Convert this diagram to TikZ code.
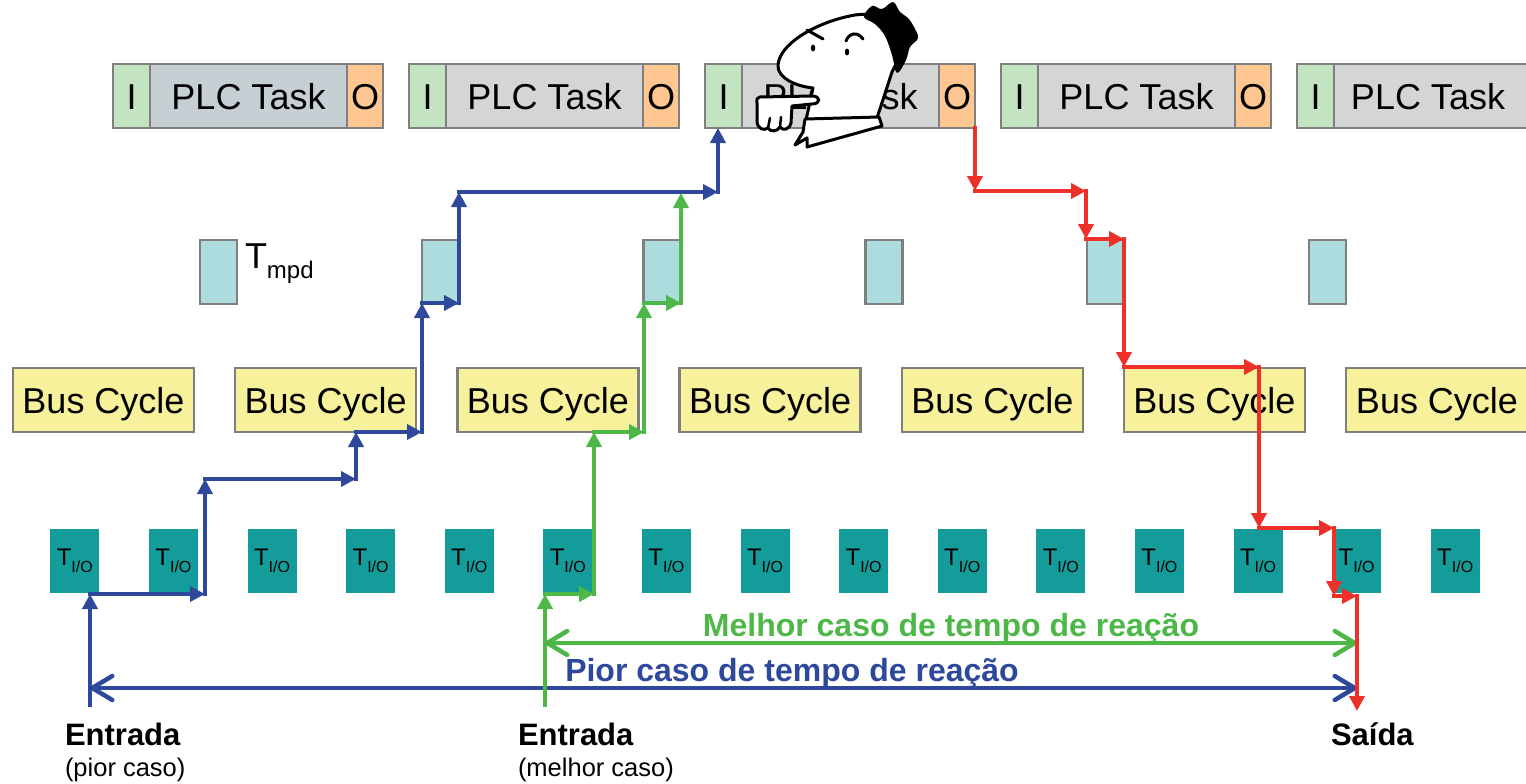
\documentclass[tikz,border=0pt]{standalone}
\usepackage{fontspec}
\setmainfont{Liberation Sans}
\usetikzlibrary{arrows.meta}
\definecolor{cI}{HTML}{C4E3C0}
\definecolor{cTask}{HTML}{D4D6D6}
\definecolor{cTaskA}{HTML}{C6D0D4}
\definecolor{cO}{HTML}{FEC690}
\definecolor{cBorder}{HTML}{7F7F7F}
\definecolor{cMpd}{HTML}{ADDCDF}
\definecolor{cBus}{HTML}{F6F19A}
\definecolor{cTio}{HTML}{139C9A}
\definecolor{cBlue}{HTML}{2E489C}
\definecolor{cGreen}{HTML}{4DB848}
\definecolor{cRed}{HTML}{EE3128}
\newcommand{\bigf}{\fontsize{36}{40}\selectfont}
\newcommand{\labf}{\bfseries\fontsize{32}{36}\selectfont}
\newcommand{\entf}{\bfseries\fontsize{31}{35}\selectfont}
\newcommand{\subf}{\fontsize{25.5}{30}\selectfont}
\begin{document}
\begin{tikzpicture}[x=1pt,y=-1pt,
  box/.style={draw=cBorder, line width=2.5pt, inner sep=0pt, outer sep=0pt,
    anchor=north west, font=\bigf, text height=26pt, text depth=0pt, minimum height=64pt},
  tio/.style={fill=cTio, inner sep=0pt, outer sep=0pt, anchor=north west,
    minimum width=49pt, minimum height=64pt},
  tip/.style={-{Triangle[length=15pt,width=15pt]}},
  seg/.style={line width=4.5pt, line cap=rect, tip},
  bseg/.style={seg, draw=cBlue},
  gseg/.style={seg, draw=cGreen},
  rseg/.style={seg, draw=cRed},
  dim/.style={line width=4.5pt, {Straight Barb[length=20pt,width=24pt,round]}-{Straight Barb[length=20pt,width=24pt,round]}},
  txt/.style={inner sep=0pt, outer sep=0pt},
  toon/.style={draw=black, fill=white, line width=3pt, line join=round}
]
\useasboundingbox (0,0) rectangle (1526,784);
\clip (0,0) rectangle (1526,784);

% PLC task row
\foreach \k/\tc in {0/cTaskA,1/cTask,2/cTask,3/cTask}{
  \node[box, fill=cI, minimum width=37pt] (I\k) at ({113+296*\k},64) {I};
  \node[box, fill=\tc, minimum width=197pt] (T\k) at ({150+296*\k},64) {PLC Task};
  \node[box, fill=cO, minimum width=36pt] (O\k) at ({347+296*\k},64) {O};
}
\node[box, fill=cI, minimum width=37pt] (I4) at (1297,64) {I};
\node[box, fill=cTask, minimum width=200pt] (T4) at (1334,64) {};
\node[txt, font=\bigf, text height=26pt, text depth=0pt] (T4text) at (1428,96) {PLC Task};

% T_mpd row
\foreach \k in {0,...,5}{
  \node[box, fill=cMpd, minimum width=37pt] (M\k) at ({200+221.8*\k},240) {};
}
\node[txt, anchor=base west] (mpdlabel) at (245,268)
  {{\bigf T}{\fontsize{24}{26}\selectfont\raisebox{-10pt}{mpd}}};

% Bus cycle row
\foreach \k in {0,...,5}{
  \node[box, fill=cBus, minimum width=181pt] (B\k) at ({13+222.2*\k},368) {Bus Cycle};
}
\node[box, fill=cBus, minimum width=190pt] (B6) at (1346,368) {};
\node[txt, font=\bigf, text height=26pt, text depth=0pt] (B6text) at (1437,400) {Bus Cycle};

% T_I/O row
\foreach \k in {0,...,14}{
  \node[tio] (P\k) at ({50.3+98.6*\k},529)
    {{\fontsize{24}{26}\selectfont T}{\fontsize{16}{18}\selectfont\raisebox{-7pt}{I/O}}};
}

% dimension arrows
\coordinate (dgL) at (545,643);
\coordinate (dgR) at (1357,643);
\coordinate (dbL) at (90,688);
\coordinate (dbR) at (1357,688);
\draw[dim, draw=cGreen] (dgL) -- (dgR);
\draw[dim, draw=cBlue] (dbL) -- (dbR);
\node[txt, anchor=base, font=\labf, text=cGreen] (lgreen) at (951,636) {Melhor caso de tempo de reação};
\node[txt, anchor=base, font=\labf, text=cBlue] (lblue) at (792,681) {Pior caso de tempo de reação};

% blue path (worst case)
\coordinate (b0) at (90,705);
\coordinate (b1) at (90,594);
\coordinate (b2) at (205,594);
\coordinate (b3) at (205,479);
\coordinate (b4) at (356,479);
\coordinate (b5) at (356,432);
\coordinate (b6) at (422,432);
\coordinate (b7) at (422,303);
\coordinate (b8) at (459,303);
\coordinate (b9) at (459,192);
\coordinate (b10) at (718,192);
\coordinate (b11) at (718,128);
\foreach \a/\b in {b0/b1,b1/b2,b2/b3,b3/b4,b4/b5,b5/b6,b6/b7,b7/b8,b8/b9,b9/b10,b10/b11}
  \draw[bseg] (\a) -- (\b);

% green path (best case)
\coordinate (g0) at (545,705);
\coordinate (g1) at (545,594);
\coordinate (g2) at (594,594);
\coordinate (g3) at (594,432);
\coordinate (g4) at (644,432);
\coordinate (g5) at (644,303);
\coordinate (g6) at (681,303);
\coordinate (g7) at (681,193);
\foreach \a/\b in {g0/g1,g1/g2,g2/g3,g3/g4,g4/g5,g5/g6,g6/g7}
  \draw[gseg] (\a) -- (\b);

% red path (output)
\coordinate (r0) at (975,128);
\coordinate (r1) at (975,191);
\coordinate (r2) at (1086,191);
\coordinate (r3) at (1086,239);
\coordinate (r4) at (1124,239);
\coordinate (r5) at (1124,367);
\coordinate (r6) at (1259,367);
\coordinate (r7) at (1259,528);
\coordinate (r8) at (1334,528);
\coordinate (r9) at (1334,596);
\coordinate (r10) at (1357,596);
\coordinate (r11) at (1357,711);
\foreach \a/\b in {r0/r1,r1/r2,r2/r3,r3/r4,r4/r5,r5/r6,r6/r7,r7/r8,r8/r9,r9/r10,r10/r11}
  \draw[rseg] (\a) -- (\b);

% bottom labels
\node[txt, anchor=base west, font=\entf] (e1) at (65,745) {Entrada};
\node[txt, anchor=base west, font=\subf] (e1s) at (65,776) {(pior caso)};
\node[txt, anchor=base west, font=\entf] (e2) at (518,745) {Entrada};
\node[txt, anchor=base west, font=\subf] (e2s) at (518,776) {(melhor caso)};
\node[txt, anchor=base west, font=\entf] (sai) at (1331,745) {Saída};

% cartoon figure
\path[toon] (813,88) .. controls (795,86) and (778,78) .. (778,66)
  .. controls (778,45) and (815,22) .. (855,15)
  .. controls (875,12) and (900,20) .. (902,40)
  .. controls (903,55) and (895,65) .. (892,72)
  -- (877,118) -- (806,120) -- cycle;
\fill[black] plot[smooth cycle, tension=0.6] coordinates
  {(864,17) (872,6) (882,9) (893,2) (900,12) (908,18) (914,27) (918,38)
   (910,47) (906,60) (897,73) (892,55) (885,36) (875,24)};
\path[toon] (805,119) -- (879,117) -- (882,126) -- (807,147) -- (807,138)
  -- (795,145) -- (803,132) -- cycle;
\path[toon] (760,97) -- (812,96) .. controls (821,96) and (821,104) .. (812,104)
  -- (792,106) -- (791,123) .. controls (789,130) and (783,131) .. (780,127)
  .. controls (777,132) and (770,132) .. (768,128)
  .. controls (764,131) and (758,129) .. (757,122) -- (757,103)
  .. controls (756,99) and (758,97) .. (760,97) -- cycle;
\draw[black, line width=2.5pt, line cap=round] (768,128) -- (770,118);
\draw[black, line width=2.5pt, line cap=round] (780,127) -- (781,117);
\fill[black] (813,48) ellipse (2.2pt and 3.5pt);
\fill[black] (847,52) ellipse (2.2pt and 3.5pt);
\draw[black, line width=3pt, line cap=round] (807,30) -- (823,39);
\draw[black, line width=3pt, line cap=round] (846,41) .. controls (849,33) and (857,31) .. (863,39);
\end{tikzpicture}
\end{document}
